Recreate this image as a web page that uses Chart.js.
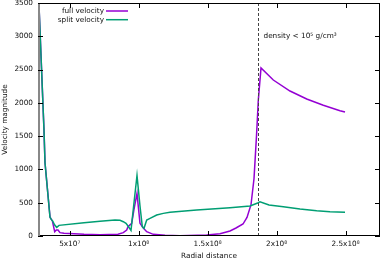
<!DOCTYPE html>
<html><head><meta charset="utf-8">
<script src="https://cdn.jsdelivr.net/npm/chart.js@4"></script>
<style>html,body{margin:0;padding:0;background:#fff;overflow:hidden}#c{display:block}</style>
</head><body>
<canvas id="c" width="381" height="261"></canvas>
<script>
// ---- data ----
const rFull = [2.736e7,3.135e7,3.208e7,3.570e7,3.62e7,3.737e7,3.911e7,4.027e7,4.150e7,4.295e7,4.585e7,6.036e7,7.196e7,8.501e7,8.885e7,9.132e7,9.226e7,9.495e7,9.661e7,9.879e7,1.0096e8,1.0336e8,1.0582e8,1.1061e8,1.1909e8,1.2997e8,1.4933e8,1.5898e8,1.6623e8,1.7058e8,1.7566e8,1.7856e8,1.8146e8,1.8363e8,1.8544e8,1.8675e8,1.8871e8,1.9763e8,2.0974e8,2.2185e8,2.3389e8,2.4599e8,2.4962e8];
const vFull = [3650,1590,1100,290,265,230,65,90,90,50,40,25,20,25,50,90,140,190,400,640,190,120,65,25,10,5,15,35,75,120,180,280,470,860,1500,2040,2525,2343,2178,2058,1963,1882,1862];
const rSplit = [2.736e7,3.135e7,3.208e7,3.570e7,3.693e7,3.751e7,3.911e7,4.056e7,4.223e7,6.036e7,7.196e7,8.284e7,8.646e7,8.885e7,9.081e7,9.226e7,9.444e7,9.661e7,9.879e7,1.0096e8,1.0263e8,1.0387e8,1.0582e8,1.0822e8,1.1307e8,1.1786e8,1.2272e8,1.4208e8,1.6623e8,1.8073e8,1.8675e8,1.8798e8,1.9451e8,2.0488e8,2.1699e8,2.2910e8,2.3874e8,2.4962e8];
const vSplit = [3650,1590,1100,280,240,230,165,130,160,200,220,240,235,215,190,150,85,500,910,450,140,115,240,265,315,340,355,390,425,450,500,515,465,440,405,380,365,356];
const seriesNames = ['full velocity','split velocity'];
const xTickValues = [5e7,1e8,1.5e8,2e8,2.5e8];
const xTickLabels = ['5x10⁷','1x10⁸','1.5x10⁸','2x10⁸','2.5x10⁸'];
const yTickValues = [0,500,1000,1500,2000,2500,3000,3500];
const densityLimitR = 1.8675e8;
const densityLabel = 'density < 10⁵ g/cm³';

const FONT = 'DejaVu Sans';
const FS = 7.3;
const purple = '#9400d3', green = '#009e73';

const toPts = (rs, vs) => rs.map((r, i) => ({x: r, y: vs[i]}));

const decor = {
  id: 'decor',
  afterDatasetsDraw(chart) {
    const ctx = chart.ctx, ca = chart.chartArea, xs = chart.scales.x, ys = chart.scales.y;
    ctx.save();
    // dashed density line
    const dx = Math.round(xs.getPixelForValue(densityLimitR)) + 0.5;
    ctx.strokeStyle = '#444'; ctx.lineWidth = 1; ctx.setLineDash([3, 2]);
    ctx.beginPath(); ctx.moveTo(dx, ca.top); ctx.lineTo(dx, ca.bottom); ctx.stroke();
    ctx.setLineDash([]);
    // frame
    ctx.strokeStyle = '#000'; ctx.lineWidth = 1;
    ctx.beginPath();
    ctx.moveTo(ca.left, ca.top + 0.5); ctx.lineTo(ca.right, ca.top + 0.5);
    ctx.moveTo(ca.right - 0.5, ca.top); ctx.lineTo(ca.right - 0.5, ca.bottom);
    ctx.moveTo(ca.left, ca.bottom - 0.5); ctx.lineTo(ca.right, ca.bottom - 0.5);
    ctx.stroke();
    ctx.strokeStyle = '#888'; ctx.lineWidth = 2;
    ctx.beginPath(); ctx.moveTo(ca.left + 1, ca.top); ctx.lineTo(ca.left + 1, ca.bottom); ctx.stroke();
    // inward ticks
    ctx.strokeStyle = '#000'; ctx.lineWidth = 1;
    ctx.beginPath();
    yTickValues.forEach(v => {
      const y = Math.round(ys.getPixelForValue(v)) + 0.5;
      ctx.moveTo(ca.left, y); ctx.lineTo(ca.left + 5, y);
      ctx.moveTo(ca.right, y); ctx.lineTo(ca.right - 5, y);
    });
    xTickValues.forEach(v => {
      const x = Math.round(xs.getPixelForValue(v)) + 0.5;
      ctx.moveTo(x, ca.bottom); ctx.lineTo(x, ca.bottom - 5);
      ctx.moveTo(x, ca.top); ctx.lineTo(x, ca.top + 5);
    });
    ctx.stroke();
    // legend
    ctx.font = FS + 'px "' + FONT + '"';
    ctx.fillStyle = '#111'; ctx.textAlign = 'right'; ctx.textBaseline = 'middle';
    const colors = [purple, green];
    const ly = [ca.top + 8, ca.top + 16.7];
    seriesNames.forEach((n, i) => {
      ctx.fillText(n, ca.left + 66, ly[i]);
      ctx.strokeStyle = colors[i]; ctx.lineWidth = 1.5;
      ctx.beginPath(); ctx.moveTo(ca.left + 68, ly[i]); ctx.lineTo(ca.left + 90, ly[i]); ctx.stroke();
    });
    // annotation
    ctx.textAlign = 'left';
    ctx.fillText(densityLabel, dx + 5, ca.top + 33);
    ctx.restore();
  }
};

new Chart(document.getElementById('c'), {
  type: 'line',
  data: {
    datasets: [
      {label: seriesNames[0], data: toPts(rFull, vFull), borderColor: purple, borderWidth: 1.5, pointRadius: 0, tension: 0, order: 1},
      {label: seriesNames[1], data: toPts(rSplit, vSplit), borderColor: green, borderWidth: 1.5, pointRadius: 0, tension: 0, order: 0}
    ]
  },
  options: {
    responsive: false, animation: false, devicePixelRatio: 1,
    layout: {padding: {top: 3, right: 1, bottom: 0, left: 0}},
    plugins: {legend: {display: false}, tooltip: {enabled: false}},
    scales: {
      x: {
        type: 'linear', min: 2.7e7, max: 2.75e8,
        grid: {display: false, drawTicks: false},
        border: {display: false},
        afterBuildTicks: s => { s.ticks = xTickValues.map(v => ({value: v})); },
        afterFit: s => { s.height = 25; s.paddingLeft = 0; s.paddingRight = 0; },
        ticks: {padding: 4, color: '#111', font: {family: FONT, size: FS},
          callback: v => xTickLabels[xTickValues.indexOf(v)], maxRotation: 0, autoSkip: false},
        title: {display: true, text: 'Radial distance', color: '#111', font: {family: FONT, size: FS}, padding: {top: 0, bottom: 1}}
      },
      y: {
        min: 0, max: 3500,
        grid: {display: false, drawTicks: false},
        border: {display: false},
        afterBuildTicks: s => { s.ticks = yTickValues.map(v => ({value: v})); },
        afterFit: s => { s.width = 38; s.paddingTop = 0; s.paddingBottom = 0; },
        ticks: {padding: 5, color: '#111', font: {family: FONT, size: FS}, callback: v => String(v)},
        title: {display: true, text: 'Velocity magnitude', color: '#111', font: {family: FONT, size: FS}, padding: {top: 1, bottom: 0}}
      }
    }
  },
  plugins: [decor]
});
</script>
</body></html>
